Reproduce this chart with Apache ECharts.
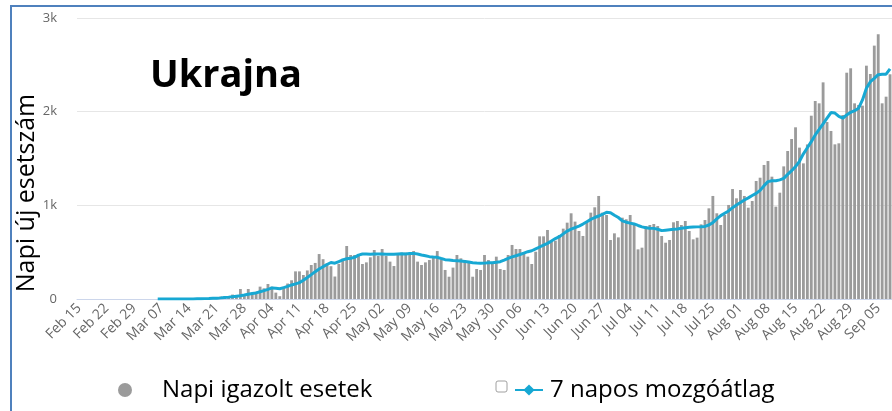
<!DOCTYPE html>
<html>
<head>
<meta charset="utf-8">
<title>Ukrajna</title>
<script src="https://cdn.jsdelivr.net/npm/echarts@6/dist/echarts.min.js"></script>
<style>
  html, body { margin: 0; padding: 0; background: #fff; }
  #chart { width: 892px; height: 411px; }
</style>
</head>
<body>
<div id="chart"></div>
<script>
// first day on the axis, number of days, and first day with data (Mar 06)
const startDate = new Date(2020, 1, 15)
const dayCount = 207
const dataOffset = 20

// napi igazolt esetek, Mar 06 .. Sep 08
const dailyCases = [
  0, 0, 0, 0, 0, 0, 1, 0, 0, 2, 4,
  7, 2, 10, 10, 21, 26, 29, 16, 47, 43,
  107, 53, 107, 68, 78, 132, 114, 160, 132, 68,
  30, 130, 165, 200, 295, 295, 256, 305, 363, 385,
  480, 425, 380, 350, 240, 375,
  430, 566, 470, 470,
  459, 374, 391, 445, 523, 459, 534, 459, 399, 352,
  470, 495, 495, 495, 512, 399, 363, 391, 416, 452,
  512, 416, 310, 238, 335, 470, 434, 416, 399, 238,
  320, 310, 470, 416, 381, 452, 320, 310, 470, 577,
  534, 534, 495, 452, 374,
  505, 669, 669, 737, 630, 623, 683, 751, 815, 915,
  826, 726, 673, 826, 922, 979, 1100, 922, 897, 630,
  701, 658, 868, 851, 897, 790, 530, 548, 779, 790,
  801, 779, 673, 601, 630, 819, 833, 790, 833, 726, 637, 655,
  797, 843, 968, 1100, 915, 790, 897, 1004, 1174, 1075,
  1164, 1100, 975, 1046, 1260, 1295, 1431, 1473, 1306, 986,
  1135, 1416, 1580, 1708, 1833, 1616, 1448, 1650, 1957, 2114,
  2089, 2313, 1890, 1794, 1651, 1662, 1964, 2416, 2463, 2089,
  2071, 2064, 2491, 2402, 2705, 2826, 2089, 2160, 2399
]

// 7 napos mozgóátlag, Mar 06 .. Sep 08
const movingAvg = [
  0, 0, 0, 0, 0, 0, 1, 1, 1, 1, 2,
  3, 4, 5, 7, 9, 12, 16, 20, 25, 30,
  35, 42, 50, 58, 65, 78, 90, 103, 118, 115,
  110, 122, 135, 150, 162, 175, 200, 230, 260, 292,
  320, 345, 368, 390, 382, 400, 418, 430, 434, 445,
  468, 480, 480, 478, 480, 481, 480, 478, 477, 478,
  480, 482, 480, 485, 487, 480, 470, 462, 452, 448,
  445, 432, 420, 416, 410, 409, 406, 400, 394, 388,
  384, 381, 383, 386, 388, 392, 398, 415, 434, 450,
  462, 475, 490, 505, 515, 535, 555, 575, 594, 620,
  645, 665, 695, 725, 745, 762, 779, 800, 825, 850,
  870, 886, 905, 925, 922, 895, 870, 835, 820, 810,
  801, 785, 770, 760, 755, 754, 745, 730, 735, 740,
  745, 748, 755, 760, 765, 768, 770, 772, 775, 790,
  815, 855, 890, 915, 940, 975, 1004, 1030, 1057, 1080,
  1105, 1128, 1160, 1210, 1253, 1262, 1263, 1272, 1288, 1330,
  1370, 1413, 1470, 1550, 1615, 1680, 1751, 1810, 1870, 1930,
  1990, 1985, 1950, 1930, 1965, 1993, 2010, 2036, 2125, 2250,
  2320, 2356, 2395, 2400, 2400, 2456
]

const yTicks = [0, 1000, 2000, 3000]
const yTickLabels = ['0', '1k', '2k', '3k']

const monthNames = ['Jan', 'Feb', 'Mar', 'Apr', 'May', 'Jun', 'Jul', 'Aug', 'Sep', 'Oct', 'Nov', 'Dec']

const categories = []
for (let i = 0; i < dayCount; i++) {
  const d = new Date(startDate.getFullYear(), startDate.getMonth(), startDate.getDate() + i)
  const day = d.getDate() < 10 ? '0' + d.getDate() : '' + d.getDate()
  categories.push(monthNames[d.getMonth()] + ' ' + day)
}

const pad = new Array(dataOffset).fill(null)
const barData = pad.concat(dailyCases)
const lineData = pad.concat(movingAvg)

const font = '"Open Sans", "Noto Sans", sans-serif'
const barColor = '#9b9b9b'
const lineColor = '#17a8d3'

const chart = echarts.init(document.getElementById('chart'), null, { renderer: 'canvas' })

chart.setOption({
  animation: false,
  textStyle: { fontFamily: font },
  grid: { left: 77, top: 18, width: 816, height: 281 },
  legend: [
    {
      data: ['Napi igazolt esetek'],
      left: 113,
      top: 373,
      icon: 'circle',
      itemWidth: 14,
      itemHeight: 14,
      textStyle: { fontSize: 24, color: '#000', fontFamily: font, padding: [0, 0, 0, 25] }
    },
    {
      data: ['7 napos mozgóátlag'],
      left: 509,
      top: 373,
      itemWidth: 28,
      itemHeight: 14,
      textStyle: { fontSize: 24, color: '#000', fontFamily: font, padding: [0, 0, 0, 2] }
    }
  ],
  xAxis: {
    type: 'category',
    data: categories,
    boundaryGap: true,
    axisLine: { lineStyle: { color: '#ccd6eb', width: 1 } },
    axisTick: { show: false },
    axisLabel: {
      interval: 6,
      rotate: 45,
      margin: 7,
      color: '#666',
      fontSize: 14,
      fontFamily: font
    }
  },
  yAxis: {
    type: 'value',
    min: yTicks[0],
    max: yTicks[yTicks.length - 1],
    interval: yTicks[1] - yTicks[0],
    axisLine: { show: false },
    axisTick: { show: false },
    splitLine: { lineStyle: { color: '#e6e6e6' } },
    axisLabel: {
      margin: 20,
      color: '#666',
      fontSize: 13,
      fontFamily: font,
      formatter: v => yTickLabels[yTicks.indexOf(v)]
    }
  },
  series: [
    {
      name: 'Napi igazolt esetek',
      type: 'bar',
      data: barData,
      barCategoryGap: '28%',
      itemStyle: { color: barColor }
    },
    {
      name: '7 napos mozgóátlag',
      type: 'line',
      data: lineData,
      symbol: 'diamond',
      symbolSize: 8,
      showSymbol: false,
      lineStyle: { color: lineColor, width: 3 },
      itemStyle: { color: lineColor }
    }
  ],
  graphic: [
    {
      type: 'polyline',
      shape: { points: [[11, 411], [11, 6], [892, 6]] },
      style: { stroke: '#4f81bd', lineWidth: 2, fill: null }
    },
    {
      type: 'text',
      x: 150,
      y: 76,
      style: {
        text: 'Ukrajna',
        fontSize: 38,
        fontWeight: 'bold',
        fontFamily: font,
        fill: '#000',
        textAlign: 'left',
        textVerticalAlign: 'middle'
      }
    },
    {
      type: 'text',
      x: 27,
      y: 193,
      rotation: Math.PI / 2,
      style: {
        text: 'Napi új esetszám',
        fontSize: 25,
        fontFamily: font,
        fill: '#000',
        textAlign: 'center',
        textVerticalAlign: 'middle'
      }
    },
    {
      type: 'rect',
      shape: { x: 496, y: 381, width: 11, height: 11, r: 2 },
      style: { fill: '#fff', stroke: '#a0a0a0', lineWidth: 1 }
    }
  ]
})
</script>
</body>
</html>
